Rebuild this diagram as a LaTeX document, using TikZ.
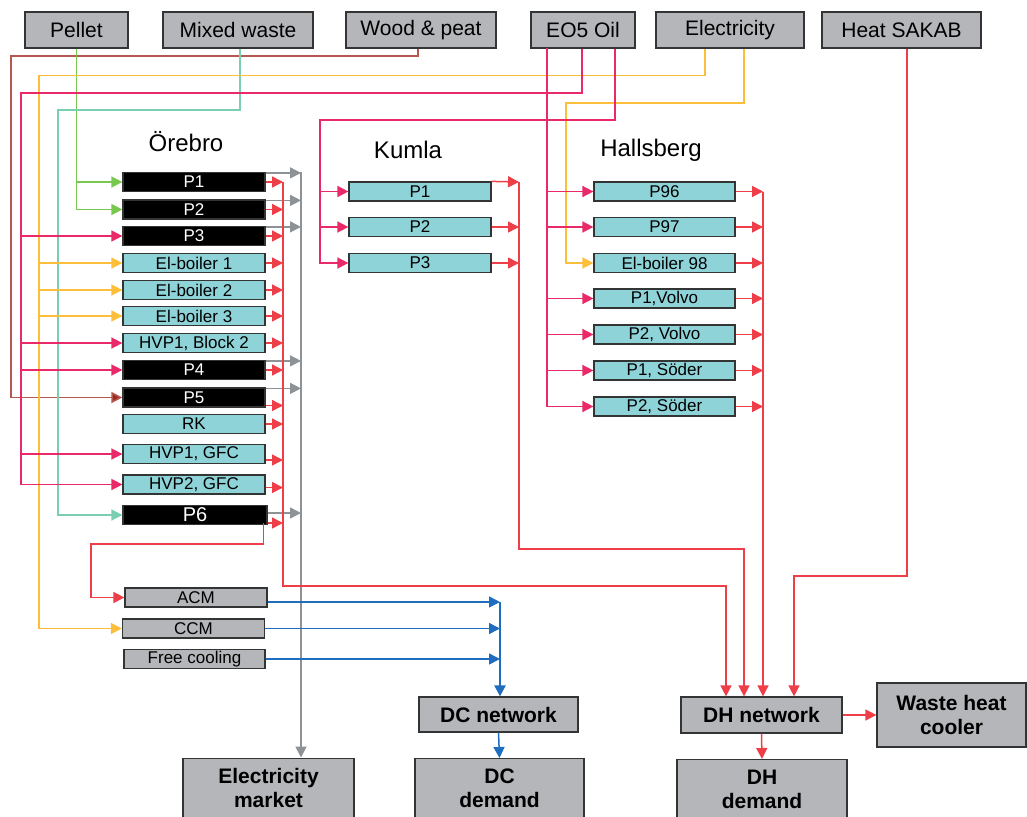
\documentclass[tikz,border=0pt]{standalone}
\usepackage{fontspec}
\setmainfont{Liberation Sans}
\usetikzlibrary{arrows.meta,calc}

\definecolor{edge}{HTML}{333535}
\definecolor{greyfill}{HTML}{B4B6B9}
\definecolor{cyanfill}{HTML}{8ED3D8}
\definecolor{heatred}{HTML}{EE3E48}
\definecolor{oilpink}{HTML}{EA2A68}
\definecolor{elyellow}{HTML}{FDBE3C}
\definecolor{pelletgreen}{HTML}{78C850}
\definecolor{wastemint}{HTML}{7ACFB2}
\definecolor{woodbrown}{HTML}{B5584F}
\definecolor{woodtip}{HTML}{9A2B1E}
\definecolor{powergrey}{HTML}{8C9295}
\definecolor{coolblue}{HTML}{1E6DBF}

\begin{document}
\begin{tikzpicture}[x=1pt,y=-1pt,
  box/.style={draw=edge, line width=1.2pt, inner sep=0pt, text=black},
  inbox/.style={box, fill=greyfill, minimum height=36pt, font=\fontsize{21}{24}\selectfont},
  plant/.style={box, fill=cyanfill, minimum width=142pt, minimum height=19pt, font=\fontsize{17}{19}\selectfont},
  chp/.style={plant, fill=black, text=white},
  chiller/.style={plant, fill=greyfill},
  outbox/.style={box, fill=greyfill, font=\bfseries\fontsize{21}{24}\selectfont, align=center},
  town/.style={font=\fontsize{24}{28}\selectfont},
  wire/.style={line width=1.5pt},
  arr/.style={wire, -{Triangle[length=11pt,width=11pt]}},
]
\clip (0,0) rectangle (1027,816);

% ---------- supply ----------
\node[inbox, minimum width=103pt] (pellet) at (76.5,30) {Pellet};
\node[inbox, minimum width=150pt] (mixed)  at (238,30) {Mixed waste};
\node[inbox, minimum width=150pt] (wood)   at (421,30) {Wood \& peat};
\node[inbox, minimum width=104pt] (eo5)    at (583,30) {EO5 Oil};
\node[inbox, minimum width=148pt] (elec)   at (730,30) {Electricity};
\node[inbox, minimum width=159pt] (sakab)  at (901.5,30) {Heat SAKAB};

% ---------- towns ----------
\node[town] (torebro) at (186,142) {Örebro};
\node[town] (tkumla)  at (408,150) {Kumla};
\node[town] (thall)   at (651,150) {Hallsberg};

% Örebro units
\node[chp]   (o1)  at (194,182)   {P1};
\node[chp]   (o2)  at (194,209.5) {P2};
\node[chp]   (o3)  at (194,236)   {P3};
\node[plant] (e1)  at (194,263)   {El-boiler 1};
\node[plant] (e2)  at (194,290)   {El-boiler 2};
\node[plant] (e3)  at (194,316)   {El-boiler 3};
\node[plant] (hb2) at (194,343)   {HVP1, Block 2};
\node[chp]   (o4)  at (194,370)   {P4};
\node[chp]   (o5)  at (194,397.5) {P5};
\node[plant] (rk)  at (194,424)   {RK};
\node[plant] (g1)  at (194,454)   {HVP1, GFC};
\node[plant] (g2)  at (194,484.5) {HVP2, GFC};
\node[chp, minimum width=144pt, font=\fontsize{20}{22}\selectfont] (o6) at (195,515) {P6};

% cooling units
\node[chiller] (acm) at (196,597.5) {ACM};
\node[chiller] (ccm) at (193.5,628.5) {CCM};
\node[chiller, minimum width=141pt] (fc) at (194.5,659) {Free cooling};

% Kumla units
\node[plant] (k1) at (420,191.5) {P1};
\node[plant] (k2) at (420,227)   {P2};
\node[plant] (k3) at (420,263)   {P3};

% Hallsberg units
\node[plant, minimum width=141pt] (h1) at (664.5,191.5) {P96};
\node[plant, minimum width=141pt] (h2) at (664.5,227)   {P97};
\node[plant, minimum width=141pt] (h3) at (664.5,263)   {El-boiler 98};
\node[plant, minimum width=141pt] (h4) at (664.5,298.5) {P1,Volvo};
\node[plant, minimum width=141pt] (h5) at (664.5,334.5) {P2, Volvo};
\node[plant, minimum width=141pt] (h6) at (664.5,370.5) {P1, Söder};
\node[plant, minimum width=141pt] (h7) at (664.5,406.5) {P2, Söder};

% ---------- networks and demand ----------
\node[outbox, minimum width=159pt, minimum height=35pt] (dcn) at (498.5,714.5) {DC network};
\node[outbox, minimum width=161pt, minimum height=36pt] (dhn) at (761.5,715) {DH network};
\node[outbox, minimum width=149pt, minimum height=64pt] (whc) at (951.5,715) {Waste heat\\cooler};
\node[outbox, minimum width=171pt, inner ysep=10pt, anchor=north] (emkt) at (268.5,757.5) {Electricity\\market};
\node[outbox, minimum width=169pt, inner ysep=10pt, anchor=north] (dcd)  at (499.5,758) {DC\\demand};
\node[outbox, minimum width=170pt, inner ysep=10pt, anchor=north] (dhd)  at (762,759) {DH\\demand};

% ---------- bus coordinates ----------
\coordinate (rbus) at (283,182);
\coordinate (gbus) at (301,172);
\coordinate (kbus) at (519,182);
\coordinate (hbus) at (763,191.5);
\coordinate (cbus) at (500,602);
\coordinate (ybus) at (39,75.5);
\coordinate (pbus) at (21,93);
\coordinate (kpbus) at (320,120);
\coordinate (hpbus) at (547,48);

% ---------- fuel and power inputs ----------
\draw[wire, woodbrown, -{Triangle[length=11pt,width=11pt,fill=woodtip]}]
  ([xshift=-3pt]wood.south) |- (11,56) |- (o5.west);

\draw[arr, pelletgreen] (pellet.south) |- (o1.west);
\draw[arr, pelletgreen] (pellet.south) |- (o2.west);

\draw[arr, wastemint] ([xshift=2pt]mixed.south) |- (58,110) |- (o6.west);

\draw[arr, elyellow] ([xshift=-25pt]elec.south) |- (ybus) |- (ccm.west);
\draw[arr, elyellow] (ybus) |- (e1.west);
\draw[arr, elyellow] (ybus) |- (e2.west);
\draw[arr, elyellow] (ybus) |- (e3.west);
\draw[arr, elyellow] ([xshift=14pt]elec.south) |- (566,103) |- (h3.west);

\draw[arr, oilpink] ([xshift=-1pt]eo5.south) |- (pbus) |- (g2.west);
\draw[arr, oilpink] (pbus) |- (o3.west);
\draw[arr, oilpink] (pbus) |- (hb2.west);
\draw[arr, oilpink] (pbus) |- (o4.west);
\draw[arr, oilpink] (pbus) |- (g1.west);

\draw[arr, oilpink] ([xshift=32pt]eo5.south) |- (kpbus) |- (k3.west);
\draw[arr, oilpink] (kpbus) |- (k1.west);
\draw[arr, oilpink] (kpbus) |- (k2.west);

\draw[arr, oilpink] ([xshift=-36pt]eo5.south) |- (h7.west);
\foreach \u in {h1,h2,h4,h5,h6}
  \draw[arr, oilpink] (hpbus) |- (\u.west);

% ---------- Örebro outputs ----------
\foreach \u/\dy in {o1/0,o2/0,o3/0,e1/0,e2/0,e3/0,hb2/0,o4/0,o5/-8,rk/0,g1/-6,g2/-3,o6/-8}
  \draw[arr, heatred] ([yshift=\dy pt]\u.east) -- ([yshift=\dy pt]\u.east -| rbus);
\foreach \u/\dy in {o1/-1,o2/-1,o3/-1,o4/-1,o5/-1}
  \draw[arr, powergrey] ([yshift=\dy pt]\u.north east) -- ([yshift=\dy pt]\u.north east -| gbus);
\draw[arr, powergrey] ([yshift=2pt]o6.east) -- ([yshift=2pt]o6.east -| gbus);

\draw[arr, powergrey] (gbus) -- (gbus |- emkt.north);
\draw[arr, heatred] (rbus) -- (283,586) -| ([xshift=-35.5pt]dhn.north);

\draw[arr, heatred] ([xshift=-4pt,yshift=-8pt]o6.east) |- (91,544) |- (acm.west);

% district cooling
\draw[arr, coolblue] ([yshift=-4.5pt]acm.east) -- (cbus);
\draw[arr, coolblue] (ccm.east) -- (ccm.east -| cbus);
\draw[arr, coolblue] (fc.east) -- (fc.east -| cbus);
\draw[arr, coolblue, line width=2.2pt] (cbus) -- (cbus |- dcn.north);
\draw[arr, coolblue] (dcn.south) -- (dcd.north);

% ---------- Kumla outputs ----------
\draw[arr, heatred] (k1.north east) -- (kbus);
\draw[arr, heatred] (k2.east) -- (k2.east -| kbus);
\draw[arr, heatred] (k3.east) -- (k3.east -| kbus);
\draw[arr, heatred] (kbus) -- (519,549) -| ([xshift=-17.5pt]dhn.north);

% ---------- Hallsberg outputs ----------
\foreach \u in {h1,h2,h3,h4,h5,h6,h7}
  \draw[arr, heatred] (\u.east) -- (\u.east -| hbus);
\draw[arr, heatred] (hbus) -- (hbus |- dhn.north);

% ---------- SAKAB and district heating ----------
\draw[arr, heatred] ([xshift=5.5pt]sakab.south) |- (794,576) -- ([xshift=32.5pt]dhn.north);
\draw[arr, heatred] (dhn.east) -- (whc.west);
\draw[arr, heatred] (dhn.south) -- (dhd.north);
\end{tikzpicture}
\end{document}
